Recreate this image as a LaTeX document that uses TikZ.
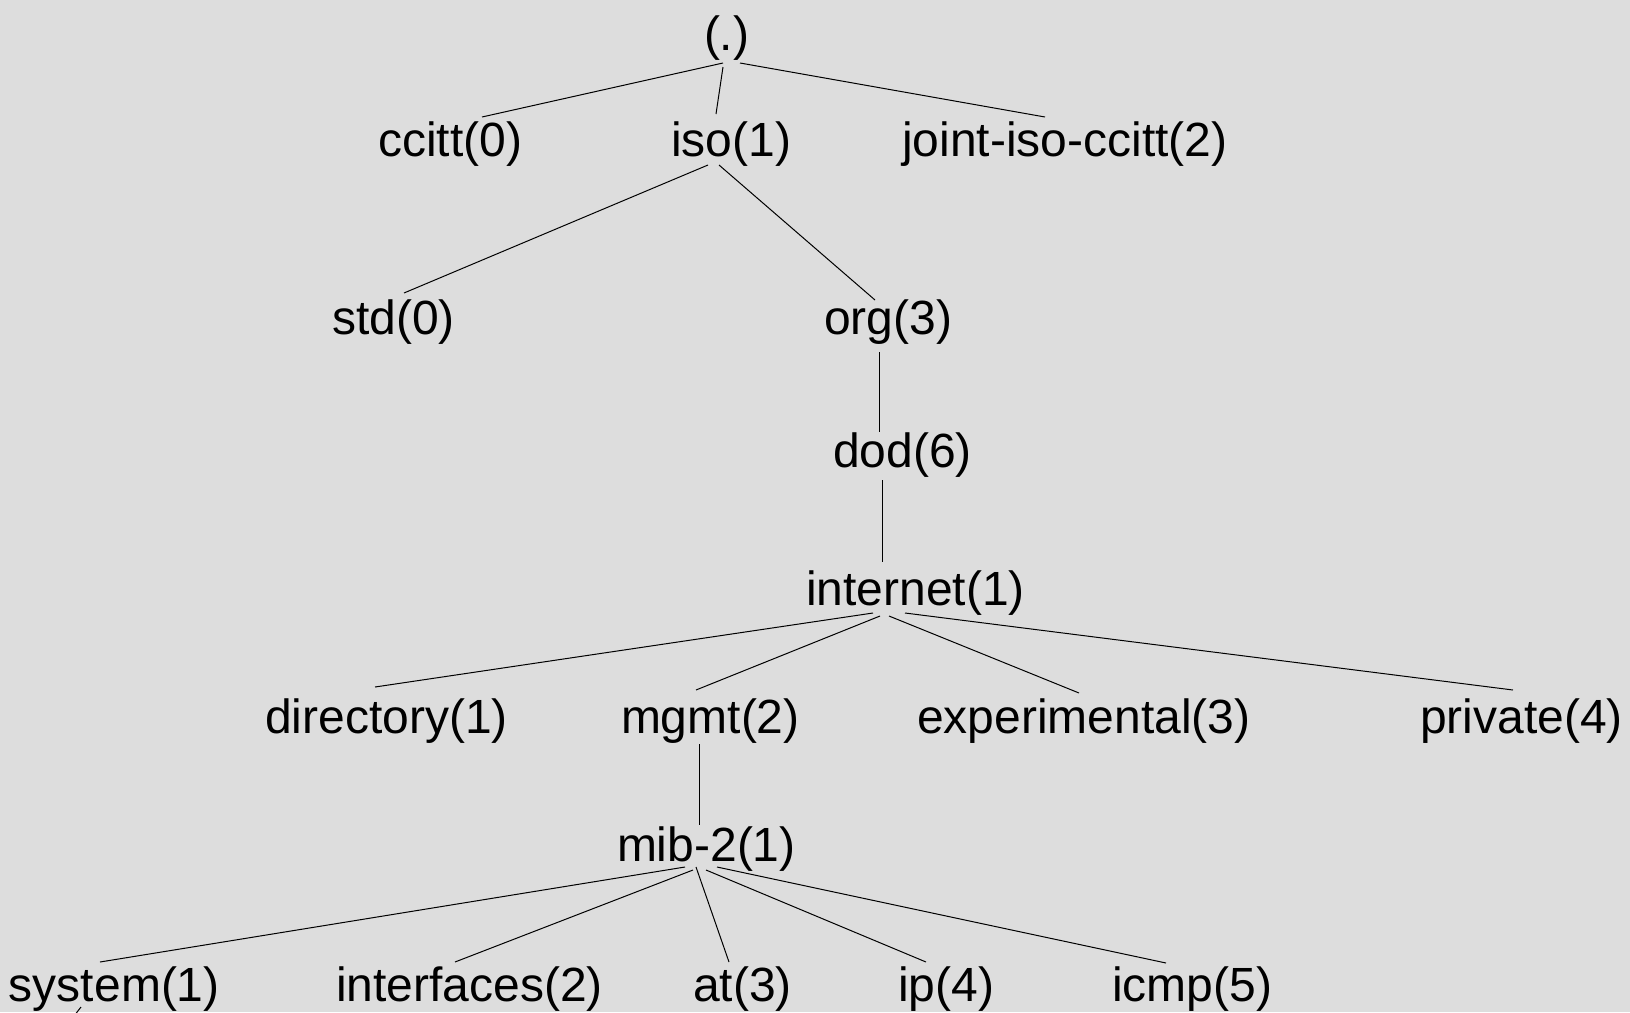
\documentclass[tikz,border=0pt]{standalone}
\usepackage{fontspec}
\setmainfont{Liberation Sans}
\usetikzlibrary{calc}
\definecolor{bg}{RGB}{221,221,221}
\begin{document}
\begin{tikzpicture}[x=1pt,y=-1pt,
  lbl/.style={anchor=base west, inner sep=0pt, outer sep=0pt, font=\fontsize{48}{57}\selectfont},
  link/.style={line width=1pt, black}]
\useasboundingbox (0,0) rectangle (1630,1012);
\fill[bg] (0,0) rectangle (1630,1012);
\clip (0,0) rectangle (1630,1012);
% nodes
\node[lbl] (root) at (704,50) {(.)};
\node[lbl] (ccitt) at (378,156) {ccitt(0)};
\node[lbl] (iso) at (671,156) {iso(1)};
\node[lbl] (joint) at (902,156) {joint-iso-ccitt(2)};
\node[lbl] (std) at (332,334) {std(0)};
\node[lbl] (org) at (824,334) {org(3)};
\node[lbl] (dod) at (833,467) {dod(6)};
\node[lbl] (internet) at (806,605) {internet(1)};
\node[lbl] (directory) at (265,733) {directory(1)};
\node[lbl] (mgmt) at (621,733) {mgmt(2)};
\node[lbl] (experimental) at (917,733) {experimental(3)};
\node[lbl] (private) at (1420,733) {private(4)};
\node[lbl] (mib) at (617,861) {mib-2(1)};
\node[lbl] (system) at (9,1001) {system(1)};
\node[lbl] (interfaces) at (336,1001) {interfaces(2)};
\node[lbl] (at) at (693,1001) {at(3)};
\node[lbl] (ip) at (898,1001) {ip(4)};
\node[lbl] (icmp) at (1112,1001) {icmp(5)};
\coordinate (stub) at ($(system.base west)+(65,15)$);
% connectors
\draw[link] ($(root.base west)+(19,13)$) -- ($(ccitt.base west)+(104,-39)$);
\draw[link] ($(root.base west)+(19,17)$) -- ($(iso.base west)+(45,-42)$);
\draw[link] ($(root.base west)+(36,13)$) -- ($(joint.base west)+(143,-39)$);
\draw[link] ($(iso.base west)+(37,9)$) -- ($(std.base west)+(72,-41)$);
\draw[link] ($(iso.base west)+(48,9)$) -- ($(org.base west)+(51,-34)$);
\draw[link] ($(org.base west)+(55,18)$) -- ($(dod.base west)+(46,-35)$);
\draw[link] ($(dod.base west)+(49,13)$) -- ($(internet.base west)+(76,-43)$);
\draw[link] ($(internet.base west)+(67,8)$) -- ($(directory.base west)+(110,-46)$);
\draw[link] ($(internet.base west)+(74,11)$) -- ($(mgmt.base west)+(75,-43)$);
\draw[link] ($(internet.base west)+(83,11)$) -- ($(experimental.base west)+(162,-40)$);
\draw[link] ($(internet.base west)+(99,8)$) -- ($(private.base west)+(93,-43)$);
\draw[link] ($(mgmt.base west)+(78,11)$) -- ($(mib.base west)+(82,-36)$);
\draw[link] ($(mib.base west)+(68,6)$) -- ($(system.base west)+(91,-39)$);
\draw[link] ($(mib.base west)+(76,9)$) -- ($(interfaces.base west)+(119,-39)$);
\draw[link] ($(mib.base west)+(79,6)$) -- ($(at.base west)+(36,-39)$);
\draw[link] ($(mib.base west)+(89,9)$) -- ($(ip.base west)+(28,-39)$);
\draw[link] ($(mib.base west)+(100,6)$) -- ($(icmp.base west)+(54,-38)$);
\draw[link] ($(system.base west)+(72,6)$) -- (stub);
\end{tikzpicture}
\end{document}
